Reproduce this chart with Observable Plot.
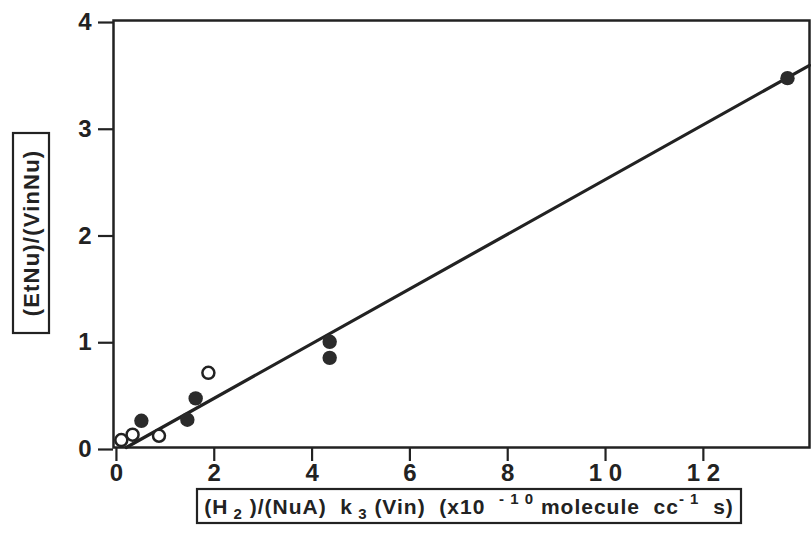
<!DOCTYPE html>
<html><head><meta charset="utf-8">
<script src="https://cdn.jsdelivr.net/npm/d3@7"></script>
<script src="https://cdn.jsdelivr.net/npm/@observablehq/plot@0.6"></script>
<style>body{margin:0;background:#fff;}</style>
</head><body><div id="chart"></div>
<script>
const filledX = [13.72, 4.36, 4.36, 1.62, 1.45, 0.51];
const filledY = [3.46, 0.99, 0.84, 0.46, 0.26, 0.25];
const openX = [1.88, 0.87, 0.33, 0.10];
const openY = [0.70, 0.11, 0.12, 0.07];
const fitX = [0.2, 14.17];
const fitY = [0, 3.58];
const xTicks = [0, 2, 4, 6, 8, 10, 12];
const xTickLabels = ["0", "2", "4", "6", "8", "1 0", "1 2"];
const yTicks = [0, 1, 2, 3, 4];
const yTickLabels = ["0", "1", "2", "3", "4"];
const yLabel = "(EtNu)/(VinNu)";

const filled = filledX.map((x, i) => ({x, y: filledY[i]}));
const open = openX.map((x, i) => ({x, y: openY[i]}));
const fit = fitX.map((x, i) => ({x, y: fitY[i]}));
const ink = "#222";

const chart = Plot.plot({
  width: 811, height: 534,
  marginLeft: 113, marginRight: 2, marginTop: 20, marginBottom: 87,
  x: {domain: [-0.06, 14.17]},
  y: {domain: [0, 4]},
  style: {fontFamily: "'Liberation Sans', Arial, sans-serif", fontWeight: "bold", color: ink, background: "#fff"},
  marks: [
    Plot.frame({stroke: ink, strokeWidth: 2.5}),
    Plot.axisX({ticks: xTicks, tickFormat: d => xTickLabels[xTicks.indexOf(d)], tickSize: 14, tickPadding: 2, label: null, strokeWidth: 2.2, stroke: ink, fontSize: 24, fontWeight: "bold"}),
    Plot.axisY({ticks: yTicks, tickFormat: d => yTickLabels[yTicks.indexOf(d)], tickSize: 15, tickPadding: 7, label: null, strokeWidth: 2.2, stroke: ink, dy: 2, fontSize: 24, fontWeight: "bold"}),
    Plot.line(fit, {x: "x", y: "y", stroke: ink, strokeWidth: 3.2}),
    Plot.dot(filled, {x: "x", y: "y", r: 7.2, fill: "#2b2b2b"}),
    Plot.dot(open, {x: "x", y: "y", r: 6, fill: "#fff", stroke: ink, strokeWidth: 2.5})
  ]
});
document.getElementById("chart").appendChild(chart);

const svg = d3.select(chart);
// enlarge the axis tick labels (the only text Plot drew)
svg.selectAll("text").style("font-size", "24px").style("font-weight", "bold")
  .style("font-family", "'Liberation Sans', Arial, sans-serif");
const font = "'Liberation Sans', Arial, sans-serif";

// X axis label with sub/superscripts
const gx = svg.append("g");
const tx = gx.append("text").attr("x", 469).attr("y", 514)
  .attr("text-anchor", "middle").attr("font-family", font).attr("font-weight", "bold")
  .attr("font-size", 21).attr("fill", ink).attr("letter-spacing", 1)
  .style("white-space", "pre");
const parts = [
  ["(H", 0], [" 2", 1], [" )/(NuA)  k", 0], [" 3", 1], [" (Vin)  (x10  ", 0], ["- 1 0", -1], [" molecule  cc", 0], ["- 1", -1], ["  s)", 0]
];
parts.forEach(([t, s], i) => {
  const prev = i > 0 ? parts[i - 1][1] : 0;
  let dy = 0;
  if (prev === 1) dy -= 5;
  if (prev === -1) dy += 10;
  if (s === 1) dy += 5;
  if (s === -1) dy -= 10;
  const sp = tx.append("tspan").text(t).attr("dy", dy);
  if (s !== 0) sp.attr("font-size", 15);
});
gx.insert("rect", "text").attr("x", 197).attr("y", 489).attr("width", 544).attr("height", 34)
  .attr("fill", "none").attr("stroke", ink).attr("stroke-width", 2.2);

// Y axis label
const gy = svg.append("g").attr("transform", "translate(31,233) rotate(-90)");
gy.append("text").attr("x", 0).attr("y", 8)
  .attr("text-anchor", "middle").attr("font-family", font).attr("font-weight", "bold")
  .attr("font-size", 22).attr("letter-spacing", 1.2).attr("fill", ink).text(yLabel);
gy.insert("rect", "text").attr("x", -100).attr("y", -18).attr("width", 200).attr("height", 36)
  .attr("fill", "none").attr("stroke", ink).attr("stroke-width", 2.2);
</script>
</body></html>
